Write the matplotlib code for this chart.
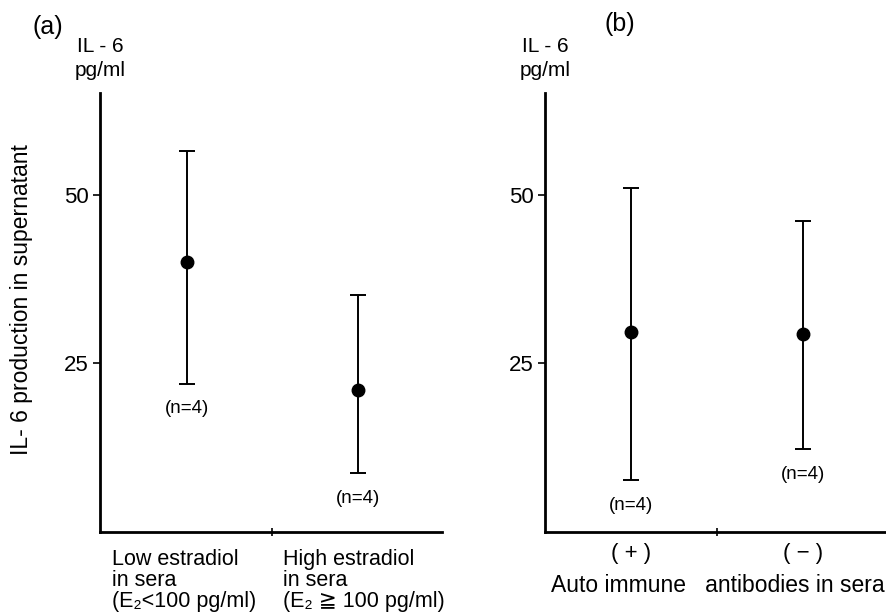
import numpy as np
import matplotlib
matplotlib.use("Agg")
import matplotlib.pyplot as plt

plt.rcParams['font.family'] = ['Liberation Sans', 'DejaVu Sans']

# panel (a): estradiol groups
groups_a = ["Low estradiol\nin sera\n(E\u2082<100 pg/ml)", "High estradiol\nin sera\n(E\u2082 \u2267 100 pg/ml)"]
mean_a = [40.0, 21.1]
upper_a = [56.5, 35.1]
lower_a = [22.0, 8.7]

# panel (b): auto immune antibodies
groups_b = ["( + )", "( \u2212 )"]
mean_b = [29.7, 29.3]
upper_b = [51.0, 46.1]
lower_b = [7.7, 12.25]

n_text = "(n=4)"
yticks = [25, 50]

W, H = 886, 615
fig = plt.figure(figsize=(W / 100, H / 100), dpi=100)


def px(x, y):
    # pixel coords (from top-left) -> figure fraction
    return x / W, 1 - y / H


def panel(left_px, right_px, xlim, means, up, lo):
    l, b = px(left_px, 532)
    w = (right_px - left_px) / W
    h = (532 - 93) / H
    ax = fig.add_axes([l, b, w, h])
    x = np.arange(1, len(means) + 1)
    m = np.array(means)
    err = [m - np.array(lo), np.array(up) - m]
    ax.errorbar(x, m, yerr=err, fmt="o", color="black", markersize=9,
                elinewidth=1.4, capsize=6, capthick=1.4)
    for xi, lo_i in zip(x, lo):
        ax.text(xi, lo_i - 3.7, n_text, ha="center", va="center", fontsize=13.5)
    ax.set_xlim(*xlim)
    ax.set_ylim(0, 65.1)
    ax.set_yticks(yticks)
    ax.set_yticklabels([str(t) for t in yticks], fontsize=16)
    ax.set_xticks([1.5])
    ax.set_xticklabels([])
    ax.tick_params(axis="y", direction="out", length=5, width=1.2, pad=3)
    ax.tick_params(axis="x", direction="inout", length=6, width=1.2)
    for s in ["top", "right"]:
        ax.spines[s].set_visible(False)
    for s in ["left", "bottom"]:
        ax.spines[s].set_linewidth(2.0)
    return ax


ax1 = panel(100, 442, (0.488, 2.495), mean_a, upper_a, lower_a)
ax2 = panel(545, 890, (0.495, 2.51), mean_b, upper_b, lower_b)

# panel letters and unit labels
fig.text(*px(48, 27), "(a)", ha="center", va="center", fontsize=18)
fig.text(*px(620, 24), "(b)", ha="center", va="center", fontsize=18)
for cx in (100, 545):
    fig.text(*px(cx, 47), "IL - 6", ha="center", va="center", fontsize=15)
    fig.text(*px(cx, 70), "pg/ml", ha="center", va="center", fontsize=15)

fig.text(*px(22, 300), "IL- 6 production in supernatant", rotation=90,
         ha="center", va="center", fontsize=16.5)

# category labels under panel (a)
for lab, xp in zip(groups_a, [112, 283]):
    fig.text(*px(xp, 549), lab, ha="left", va="top", fontsize=15.5, linespacing=1.0)

# category labels under panel (b)
for lab, xp in zip(groups_b, [631, 803]):
    fig.text(*px(xp, 554), lab, ha="center", va="center", fontsize=16)
fig.text(*px(551, 585), "Auto immune   antibodies in sera", ha="left", va="center", fontsize=16.5)

fig.savefig("out.png", dpi=100)
